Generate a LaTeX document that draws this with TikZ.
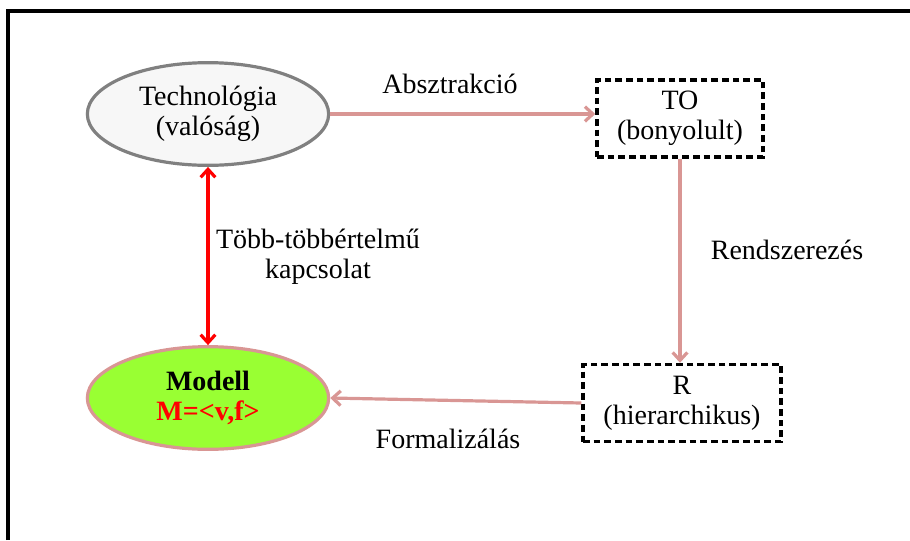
\documentclass[tikz,border=0pt]{standalone}
\usepackage{fontspec}
\setmainfont{Liberation Serif}
\usetikzlibrary{shapes.geometric,arrows.meta}
\definecolor{linkpink}{RGB}{217,150,148}
\definecolor{modellgreen}{RGB}{153,255,51}
\definecolor{techgray}{RGB}{128,128,128}
\begin{document}
\begin{tikzpicture}[x=0.75pt,y=-0.75pt,
  every node/.style={font=\fontsize{21}{22.5}\selectfont, align=center},
  realbox/.style={ellipse, line width=2.4pt, minimum width=181pt, minimum height=77pt, inner sep=0pt},
  levelbox/.style={draw, line width=2.6pt, dash pattern=on 5pt off 3pt, inner sep=0pt, minimum height=57.75pt},
  link/.style={linkpink, line width=2.4pt, -{Straight Barb[length=6pt,width=11pt]}}]
    \useasboundingbox (0,0) rectangle (910,540);
    \draw [line width=2.6pt] (8,540) -- (8,11) -- (910,11);
    % the four stations
    \node [realbox, draw=techgray, fill=black!3] (tech) at (208,114) {Technológia\\(valóság)};
    \node [levelbox, minimum width=124.5pt] (to) at (680,118.5) {TO\\(bonyolult)};
    \node [levelbox, minimum width=148.5pt] (r) at (682,403) {R\\(hierarchikus)};
    \node [realbox, draw=linkpink, fill=modellgreen] (modell) at (208,398)
        {\textbf{Modell}\\\textcolor{red}{\textbf{M=<v,f>}}};%
%
    \draw [link] (tech.east) -- (tech.east -| to.west);
    \draw [link] (to.south) -- (to.south |- r.north);
    \draw [link] (r.west) -- (modell.east);
    \draw [red, line width=2.4pt, {Straight Barb[length=6pt,width=11pt]}-{Straight Barb[length=6pt,width=11pt]}]
        (tech.south) -- (modell.north);%
%
    \node (abs) at (450,84) {Absztrakció};
    \node (rend) at (787,250) {Rendszerezés};
    \node (form) at (448,439) {Formalizálás};
    \node (kap) at (318,257) {Több-többértelmű\\kapcsolat};
\end{tikzpicture}
\end{document}
